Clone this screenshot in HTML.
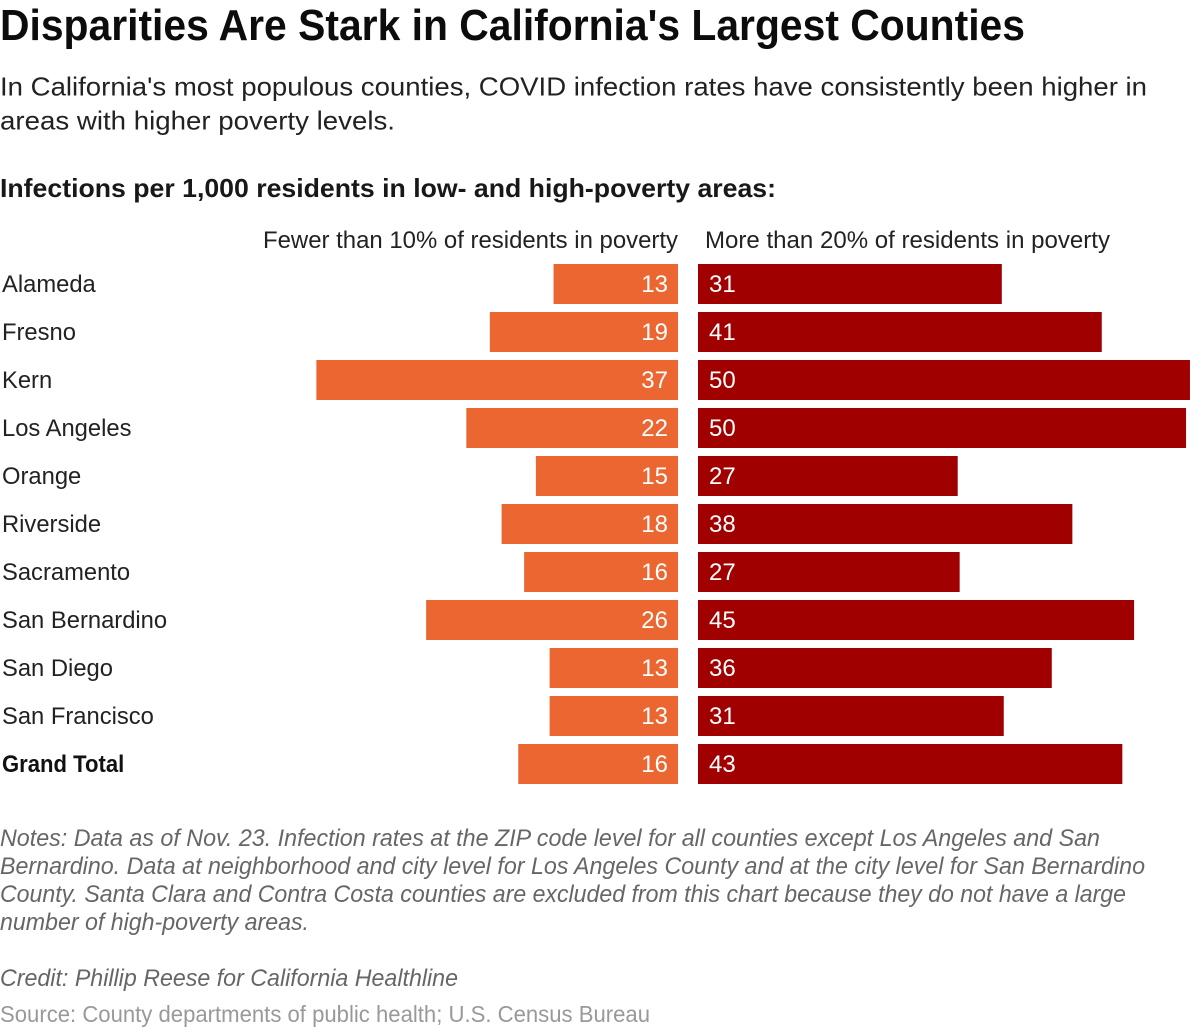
<!DOCTYPE html>
<html lang="en">
<head>
<meta charset="utf-8">
<title>Disparities Are Stark in California's Largest Counties</title>
<style>
  html, body { margin: 0; padding: 0; background: #fff; }
  svg { display: block; }
  text { font-family: "Liberation Sans", Arial, sans-serif; fill: #181818; }
  .title { font-size: 44px; font-weight: 700; fill: #0c0c0c; }
  .sub { font-size: 26px; fill: #222; }
  .head { font-size: 26px; font-weight: 700; fill: #181818; }
  .col { font-size: 24px; fill: #222; }
  .row { font-size: 24px; fill: #222; }
  .val { font-size: 24px; fill: #fff; }
  .note { font-size: 24px; font-style: italic; fill: #666; }
  .source { font-size: 23px; fill: #999; }
</style>
</head>
<body>
<svg id="chart" xmlns="http://www.w3.org/2000/svg" width="1200" height="1028" viewBox="0 0 1200 1028">
  <rect x="0" y="0" width="1200" height="1028" fill="#ffffff"/>
  <text class="title" x="0" y="40" textLength="1025" lengthAdjust="spacingAndGlyphs">Disparities Are Stark in California's Largest Counties</text>
  <text class="sub" x="0" y="95.5" textLength="1147" lengthAdjust="spacingAndGlyphs">In California's most populous counties, COVID infection rates have consistently been higher in</text>
  <text class="sub" x="0" y="129.5" textLength="395" lengthAdjust="spacingAndGlyphs">areas with higher poverty levels.</text>
  <text class="head" x="0" y="197" textLength="776" lengthAdjust="spacingAndGlyphs">Infections per 1,000 residents in low- and high-poverty areas:</text>
  <text class="col" x="263" y="248" textLength="415" lengthAdjust="spacingAndGlyphs">Fewer than 10% of residents in poverty</text>
  <text class="col" x="705" y="248" textLength="405" lengthAdjust="spacingAndGlyphs">More than 20% of residents in poverty</text>
  <g id="rows"></g>
  <text class="note" x="0" y="846" textLength="1100" lengthAdjust="spacingAndGlyphs">Notes: Data as of Nov. 23. Infection rates at the ZIP code level for all counties except Los Angeles and San</text>
  <text class="note" x="0" y="874" textLength="1145" lengthAdjust="spacingAndGlyphs">Bernardino. Data at neighborhood and city level for Los Angeles County and at the city level for San Bernardino</text>
  <text class="note" x="0" y="902" textLength="1126" lengthAdjust="spacingAndGlyphs">County. Santa Clara and Contra Costa counties are excluded from this chart because they do not have a large</text>
  <text class="note" x="0" y="930" textLength="309" lengthAdjust="spacingAndGlyphs">number of high-poverty areas.</text>
  <text class="note" x="0" y="986" textLength="458" lengthAdjust="spacingAndGlyphs">Credit: Phillip Reese for California Healthline</text>
  <text class="source" x="0" y="1022" textLength="650" lengthAdjust="spacingAndGlyphs">Source: County departments of public health; U.S. Census Bureau</text>
</svg>
<script>
const counties = ["Alameda", "Fresno", "Kern", "Los Angeles", "Orange", "Riverside", "Sacramento", "San Bernardino", "San Diego", "San Francisco", "Grand Total"];
const lowPovertyRates = [12.7, 19.2, 36.9, 21.6, 14.5, 18.0, 15.7, 25.7, 13.1, 13.1, 16.3];
const highPovertyRates = [31.0, 41.2, 50.2, 49.8, 26.5, 38.2, 26.7, 44.5, 36.1, 31.2, 43.3];

const SVG_NS = "http://www.w3.org/2000/svg";
const rowsGroup = document.getElementById("rows");
const pxPerUnit = 9.8;
const lowBase = 678;
const highBase = 698;
const firstRowTop = 264;
const rowStep = 48;
const barHeight = 40;

function lowX(v) { return lowBase - v * pxPerUnit; }
function highX(v) { return highBase + v * pxPerUnit; }
function rowY(i) { return firstRowTop + i * rowStep; }
function slug(s) { return s.toLowerCase().replace(/\s+/g, "-"); }

function makeBar(x, y, w, fill) {
  const r = document.createElementNS(SVG_NS, "rect");
  r.setAttribute("x", x);
  r.setAttribute("y", y);
  r.setAttribute("width", w);
  r.setAttribute("height", barHeight);
  r.setAttribute("fill", fill);
  return r;
}
function makeText(cls, x, y, content, anchor) {
  const t = document.createElementNS(SVG_NS, "text");
  t.setAttribute("class", cls);
  t.setAttribute("x", x);
  t.setAttribute("y", y);
  t.setAttribute("text-anchor", anchor);
  t.textContent = content;
  return t;
}

counties.forEach(function (name, i) {
  const y = rowY(i);
  const key = slug(name);
  const baseline = y + 28;
  const isTotal = name === "Grand Total";

  const label = makeText("row", 2, baseline, name, "start");
  
  
  if (isTotal) {
    label.style.fontWeight = "700";
    label.style.fill = "#111";
  }
  rowsGroup.appendChild(label);
  label.setAttribute("lengthAdjust", "spacingAndGlyphs");
  label.setAttribute("textLength", label.getComputedTextLength() * (isTotal ? 0.92 : 0.99));

  const low = lowPovertyRates[i];
  const lowBar = makeBar(lowX(low), y, lowBase - lowX(low), "#EB6631");
  
  
  rowsGroup.appendChild(lowBar);

  const lowValue = makeText("val", lowBase - 10, baseline, String(Math.round(low)), "end");
  
  
  rowsGroup.appendChild(lowValue);

  const high = highPovertyRates[i];
  const highBar = makeBar(highBase, y, highX(high) - highBase, "#A00000");
  
  
  rowsGroup.appendChild(highBar);

  const highValue = makeText("val", highBase + 11, baseline, String(Math.round(high)), "start");
  
  
  rowsGroup.appendChild(highValue);
});
</script>
</body>
</html>
